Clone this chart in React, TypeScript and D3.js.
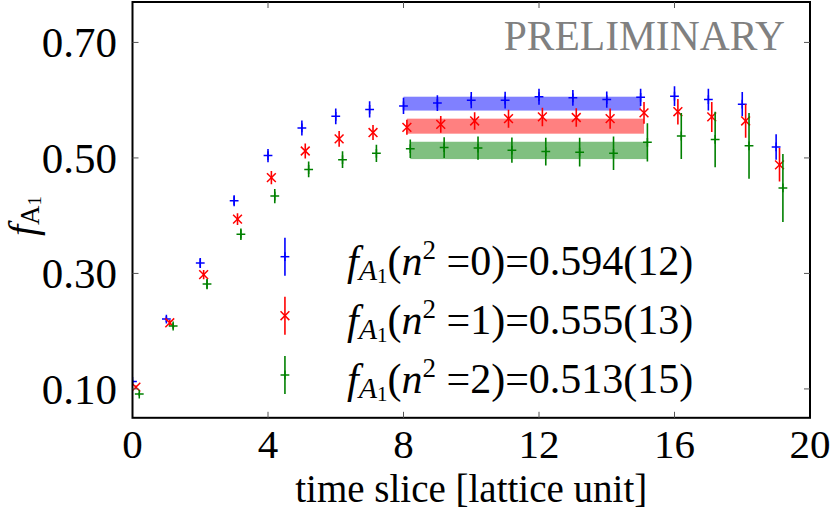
import * as d3 from 'd3';

// ── Data ───────────────────────────────────────────────────────────────────
const timeSlices = [0, 1, 2, 3, 4, 5, 6, 7, 8, 9, 10, 11, 12, 13, 14, 15, 16, 17, 18, 19];

const n0Val = [0.113, 0.221, 0.318, 0.426, 0.504, 0.552, 0.572, 0.584, 0.590, 0.595, 0.600, 0.600, 0.606, 0.604, 0.601, 0.605, 0.607, 0.601, 0.593, 0.519];
const n0Err = [0.003, 0.005, 0.0087, 0.0095, 0.0115, 0.013, 0.0136, 0.014, 0.014, 0.0136, 0.014, 0.0145, 0.014, 0.0136, 0.014, 0.015, 0.017, 0.019, 0.021, 0.022];

const n1Val = [0.103, 0.2145, 0.298, 0.394, 0.466, 0.512, 0.533, 0.544, 0.553, 0.558, 0.564, 0.568, 0.571, 0.570, 0.568, 0.578, 0.580, 0.571, 0.564, 0.488];
const n1Err = [0.003, 0.005, 0.008, 0.010, 0.0115, 0.013, 0.0136, 0.013, 0.013, 0.0145, 0.015, 0.0156, 0.016, 0.016, 0.0176, 0.019, 0.022, 0.026, 0.029, 0.029];

const n2Val = [0.091, 0.209, 0.2815, 0.368, 0.434, 0.480, 0.497, 0.508, 0.516, 0.518, 0.517, 0.5135, 0.511, 0.510, 0.508, 0.527, 0.538, 0.532, 0.521, 0.448];
const n2Err = [0.003, 0.005, 0.0087, 0.010, 0.0124, 0.0136, 0.0145, 0.015, 0.016, 0.018, 0.020, 0.022, 0.024, 0.025, 0.029, 0.033, 0.040, 0.048, 0.057, 0.059];

const fitVal = [0.594, 0.555, 0.513];
const fitErr = [0.012, 0.013, 0.015];
const fitLabel = ['0.594(12)', '0.555(13)', '0.513(15)'];
const momenta = ['0', '1', '2'];
const fitRange = [8, 15];
const tShift = [0, 0.1, 0.2];

const xTicks = [0, 4, 8, 12, 16, 20];
const yTicks = [0.10, 0.30, 0.50, 0.70];

// ── Styling ────────────────────────────────────────────────────────────────
const W = 830, H = 511;
const FONT = '"Liberation Serif", "Times New Roman", serif';
const colors = ['#0000ff', '#ff0000', '#008000'];
const bandColors = ['#8080ff', '#ff8080', '#80c080'];
const markers: ('plus' | 'cross')[] = ['plus', 'cross', 'plus'];

const series = [
  { val: n0Val, err: n0Err },
  { val: n1Val, err: n1Err },
  { val: n2Val, err: n2Err },
];

const x = d3.scaleLinear().domain([0, 20]).range([132.5, 810]);
const y = d3.scaleLinear().domain([0.05, 0.77]).range([417.8, 2]);

function Marker({ cx, cy, kind, color }: { cx: number; cy: number; kind: 'plus' | 'cross'; color: string }) {
  const s = 4.4;
  if (kind === 'plus') {
    return (
      <g stroke={color} strokeWidth={1.5}>
        <line x1={cx - s} x2={cx + s} y1={cy} y2={cy} />
        <line x1={cx} x2={cx} y1={cy - s} y2={cy + s} />
      </g>
    );
  }
  return (
    <g stroke={color} strokeWidth={1.5}>
      <line x1={cx - s} x2={cx + s} y1={cy - s} y2={cy + s} />
      <line x1={cx - s} x2={cx + s} y1={cy + s} y2={cy - s} />
    </g>
  );
}

export default function App() {
  const [x0, x1] = x.range();
  const [yb, yt] = y.range();
  const tick = 6;
  const legendX = x(4.5);
  const legendY = [256.7, 315.7, 375];

  return (
    <div>
      <style>{'body{margin:0}'}</style>
      <svg width={W} height={H} style={{ display: 'block', fontFamily: FONT }}>
        <defs>
          <clipPath id="plot-clip">
            <rect x={x0} y={yt} width={x1 - x0} height={yb - yt} />
          </clipPath>
        </defs>

        {/* fit bands */}
        {fitVal.map((v, i) => (
          <rect key={`band${i}`}
            x={x(fitRange[0] + tShift[i])} width={x(fitRange[1]) - x(fitRange[0])}
            y={y(v + fitErr[i])} height={y(v - fitErr[i]) - y(v + fitErr[i])}
            fill={bandColors[i]} />
        ))}

        {/* data points with error bars */}
        <g clipPath="url(#plot-clip)">
          {series.map((s, i) => (
            <g key={`s${i}`}>
              {timeSlices.map((t, j) => {
                const cx = x(t + tShift[i]);
                return (
                  <g key={j}>
                    <line x1={cx} x2={cx} y1={y(s.val[j] - s.err[j])} y2={y(s.val[j] + s.err[j])}
                      stroke={colors[i]} strokeWidth={1.6} />
                    <Marker cx={cx} cy={y(s.val[j])} kind={markers[i]} color={colors[i]} />
                  </g>
                );
              })}
            </g>
          ))}
        </g>

        {/* PRELIMINARY */}
        <text x={785} y={50} textAnchor="end" fontSize={41.5} fill="#808080">PRELIMINARY</text>

        {/* legend */}
        {fitVal.map((_, i) => (
          <g key={`leg${i}`}>
            <line x1={legendX} x2={legendX} y1={legendY[i] - 19} y2={legendY[i] + 19}
              stroke={colors[i]} strokeWidth={1.6} />
            <Marker cx={legendX} cy={legendY[i]} kind={markers[i]} color={colors[i]} />
            <text x={347} y={legendY[i] + 18.3} fontSize={42} fill="#000">
              <tspan fontStyle="italic">f</tspan>
              <tspan fontStyle="italic" fontSize={30} dy={5}>A</tspan>
              <tspan fontSize={21} dy={3}>1</tspan>
              <tspan dy={-8}>(</tspan>
              <tspan fontStyle="italic">n</tspan>
              <tspan fontSize={27} dy={-16}>2</tspan>
              <tspan dy={16}>{` =${momenta[i]})=${fitLabel[i]}`}</tspan>
            </text>
          </g>
        ))}

        {/* frame */}
        <rect x={x0} y={yt} width={x1 - x0} height={yb - yt} fill="none" stroke="#000" strokeWidth={2} />

        {/* ticks */}
        <g stroke="#555" strokeWidth={1}>
          {xTicks.slice(1, -1).map(t => (
            <g key={`xt${t}`}>
              <line x1={x(t)} x2={x(t)} y1={yb} y2={yb - tick} />
              <line x1={x(t)} x2={x(t)} y1={yt} y2={yt + tick} />
            </g>
          ))}
          {yTicks.map(v => (
            <g key={`yt${v}`}>
              <line x1={x0} x2={x0 + tick} y1={y(v)} y2={y(v)} />
              <line x1={x1} x2={x1 - tick} y1={y(v)} y2={y(v)} />
            </g>
          ))}
        </g>

        {/* tick labels */}
        {xTicks.map(t => (
          <text key={`xl${t}`} x={x(t)} y={458} textAnchor="middle" fontSize={41}>{t}</text>
        ))}
        {yTicks.map(v => (
          <text key={`yl${v}`} x={117} y={y(v) + 15} textAnchor="end" fontSize={43}>{d3.format('.2f')(v)}</text>
        ))}

        {/* axis titles */}
        <text x={(x0 + x1) / 2} y={502} textAnchor="middle" fontSize={39}>time slice [lattice unit]</text>
        <text transform="translate(36,216) rotate(-90)" textAnchor="middle" fontSize={40}>
          <tspan fontStyle="italic">f</tspan>
          <tspan fontSize={27} dy={3}>A</tspan>
          <tspan fontSize={19} dy={2}>1</tspan>
        </text>
      </svg>
    </div>
  );
}
